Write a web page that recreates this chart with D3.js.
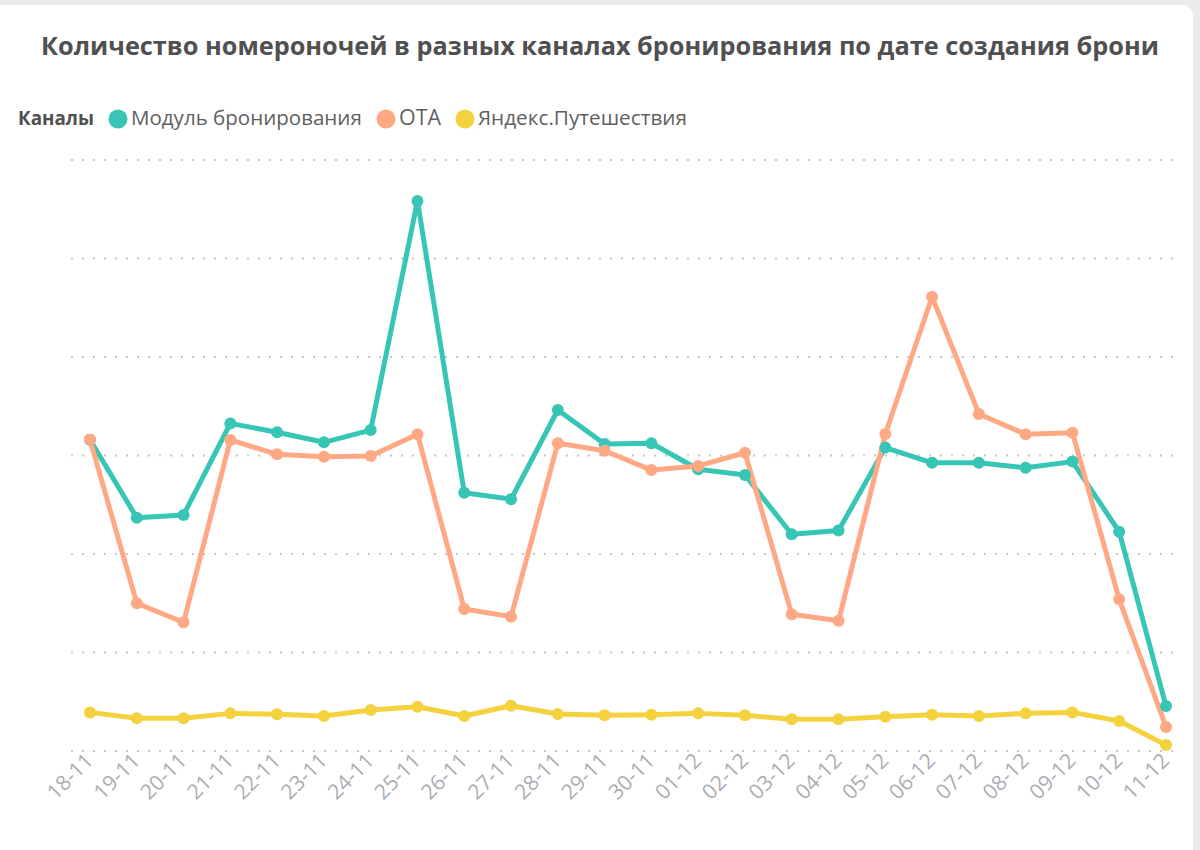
<!DOCTYPE html>
<html>
<head>
<meta charset="utf-8">
<script src="https://cdn.jsdelivr.net/npm/d3@7"></script>
<style>
  html, body { margin: 0; padding: 0; background: #ebebeb; }
  svg { display: block; }
  text { font-family: "Open Sans", "Noto Sans", sans-serif; }
</style>
</head>
<body>
<div id="chart"></div>
<script>
// даты создания брони
const dates = ["18-11", "19-11", "20-11", "21-11", "22-11", "23-11", "24-11", "25-11", "26-11", "27-11",
    "28-11", "29-11", "30-11", "01-12", "02-12", "03-12", "04-12", "05-12", "06-12", "07-12",
    "08-12", "09-12", "10-12", "11-12"];

// значения (оси без подписей, единицы условные)
const moduleValues = [158, 118.4, 119.8, 166.3, 161.8, 156.7, 162.9, 279.2, 131.1, 127.8,
    173.1, 155.8, 156.2, 143.0, 140.1, 110.0, 111.9, 154.0, 146.3, 146.3,
    143.8, 146.9, 111.3, 22.8];
const otaValues = [158, 75.0, 65.3, 157.9, 150.6, 149.4, 149.7, 160.8, 72.1, 68.2,
    156.2, 152.4, 142.6, 144.7, 151.4, 69.4, 66.1, 160.9, 230.6, 171.1,
    160.8, 161.6, 77.0, 12.2];
const yandexValues = [19.6, 16.6, 16.6, 19.1, 18.6, 17.8, 20.8, 22.5, 17.8, 23.0,
    18.8, 18.1, 18.4, 19.1, 18.1, 16.1, 16.1, 17.4, 18.4, 17.8,
    19.1, 19.6, 15.2, 3.0];

const seriesNames = ["Модуль бронирования", "ОТА", "Яндекс.Путешествия"];
const seriesColors = ["#37c5b6", "#ffa984", "#f4d23e"];
const gridTicks = [0, 50, 100, 150, 200, 250, 300];

const title = "Количество номероночей в разных каналах бронирования по дате создания брони";

const series = [moduleValues, otaValues, yandexValues].map((vals, i) => ({
    name: seriesNames[i],
    color: seriesColors[i],
    values: vals.map((v, j) => ({date: dates[j], value: v}))
}));

const W = 1200, H = 850;

const svg = d3.select("#chart").append("svg")
    .attr("width", W)
    .attr("height", H);

// карточка
svg.append("rect")
    .attr("x", -12).attr("y", 5)
    .attr("width", 1205).attr("height", 900)
    .attr("rx", 10)
    .attr("fill", "#ffffff");

// заголовок
const titleText = svg.append("text")
    .attr("x", 600).attr("y", 55)
    .attr("text-anchor", "middle")
    .attr("font-size", 22)
    .attr("font-weight", 700)
    .attr("fill", "#505050")
    .text(title);
fitWidth(titleText, 22, 1118);

// легенда
const legend = svg.append("g");
const legendTitle = legend.append("text")
    .attr("x", 18).attr("y", 125)
    .attr("font-size", 18)
    .attr("font-weight", 700)
    .attr("fill", "#505050")
    .text("Каналы");
fitWidth(legendTitle, 18, 76);

let lx = 118;
const legendWidths = [231, 42, 209];
series.forEach((s, i) => {
    legend.append("circle")
        .attr("cx", lx).attr("cy", 119)
        .attr("r", 9.5)
        .attr("fill", s.color);
    const t = legend.append("text")
        .attr("x", lx + 13).attr("y", 125)
        .attr("font-size", 18)
        .attr("fill", "#5f5f5f")
        .text(s.name);
    fitWidth(t, 18, legendWidths[i]);
    lx += 13 + legendWidths[i] + 24;
});

// шкалы
const x = d3.scalePoint()
    .domain(dates)
    .range([90, 1166]);

const y = d3.scaleLinear()
    .domain([0, 300])
    .range([751, 160]);

// сетка
svg.append("g")
    .selectAll("line")
    .data(gridTicks)
    .join("line")
    .attr("x1", 71).attr("x2", 1182)
    .attr("y1", d => y(d)).attr("y2", d => y(d))
    .attr("stroke", "#c8c8c8")
    .attr("stroke-width", 2)
    .attr("stroke-dasharray", "2 9");

// подписи оси X
const xAxis = svg.append("g")
    .attr("transform", "translate(0, 762)")
    .call(d3.axisBottom(x).tickSize(0).tickPadding(0));
xAxis.select(".domain").remove();
xAxis.selectAll("text")
    .attr("font-family", "'Open Sans', 'Noto Sans', sans-serif")
    .attr("font-size", 21)
    .attr("fill", "#abadb3")
    .attr("text-anchor", "end")
    .attr("dy", 0)
    .attr("y", 0)
    .attr("transform", "translate(4, 0) rotate(-45)");

// линии
const line = d3.line()
    .x(d => x(d.date))
    .y(d => y(d.value));

svg.append("g")
    .selectAll("path")
    .data(series)
    .join("path")
    .attr("d", d => line(d.values))
    .attr("fill", "none")
    .attr("stroke", d => d.color)
    .attr("stroke-width", 5)
    .attr("stroke-linejoin", "round");

// маркеры
svg.append("g")
    .selectAll("g")
    .data(series)
    .join("g")
    .attr("fill", d => d.color)
    .selectAll("circle")
    .data(d => d.values)
    .join("circle")
    .attr("cx", d => x(d.date))
    .attr("cy", d => y(d.value))
    .attr("r", 6);

function fitWidth(sel, size, target) {
    const len = sel.node().getComputedTextLength();
    if (len > 0) sel.attr("font-size", size * target / len);
}
</script>
</body>
</html>
